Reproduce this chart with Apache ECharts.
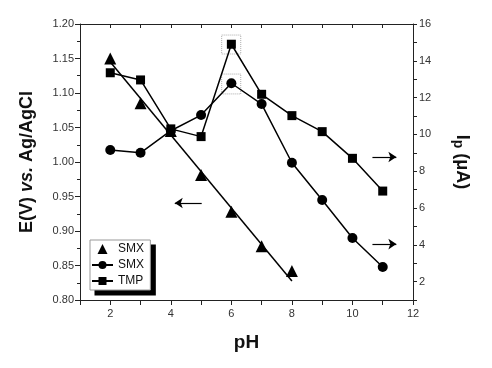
<!DOCTYPE html>
<html><head><meta charset="utf-8">
<script src="https://cdn.jsdelivr.net/npm/echarts@6/dist/echarts.min.js"></script>
<style>html,body{margin:0;padding:0;background:#fff}#c{width:492px;height:368px}</style>
</head><body><div id="c"></div>
<script>
const pH = [2,3,4,5,6,7,8,9,10,11];
const smxPotential = [1.150,1.085,1.045,0.981,0.928,0.878,0.842]; // pH 2..8, left axis
const smxFit = [[2,1.145],[8,0.8275]];
const smxCurrent = [9.15,9.0,10.2,11.05,12.78,11.65,8.46,6.43,4.37,2.79];
const tmpCurrent = [13.35,12.96,10.3,9.88,14.9,12.18,11.02,10.15,8.70,6.92];
const xTicks = [2,4,6,8,10,12];
const leftTicks = [0.80,0.85,0.90,0.95,1.00,1.05,1.10,1.15,1.20];
const rightTicks = [2,4,6,8,10,12,14,16];

const font = 'Liberation Sans, Arial, sans-serif';
const chart = echarts.init(document.getElementById('c'), null, {renderer:'canvas'});
const axisLine = {show:true, lineStyle:{color:'#222', width:1}};
const lbl = {color:'#333', fontSize:11, fontFamily:font};
const arrowML = {
  silent:true, symbol:['none','arrow'], symbolSize:8, label:{show:false},
  lineStyle:{color:'#000', width:1.2, type:'solid'}, emphasis:{disabled:true}
};

chart.setOption({
  backgroundColor:'#fff',
  animation:false,
  grid:{left:80, right:79, top:24, bottom:68},
  legend:{
    orient:'vertical', left:90, top:240, z:10,
    data:[{name:'SMX', icon:'path://M0,10 L5,0 L10,10 Z'}, 'SMX ', 'TMP'],
    itemWidth:21, itemHeight:10, itemGap:4, symbolKeepAspect:true,
    padding:[3,3,3,1],
    backgroundColor:'#fff', borderColor:'#999', borderWidth:1,
    textStyle:{fontSize:12, color:'#111', fontFamily:font}
  },
  xAxis:[{
    type:'value', min:1, max:12, interval:1, position:'bottom',
    name:'pH', nameLocation:'middle', nameGap:33,
    nameTextStyle:{fontSize:19, fontWeight:'bold', color:'#111', fontFamily:font},
    axisLine:axisLine, splitLine:{show:false},
    axisTick:{show:true, inside:false, length:5, lineStyle:{color:'#222'}},
    axisLabel:Object.assign({margin:8, formatter:v=>xTicks.includes(v)?String(v):''}, lbl)
  },{
    type:'value', min:1, max:12, interval:1, position:'top',
    axisLine:axisLine, splitLine:{show:false},
    axisTick:{show:true, inside:true, length:4, lineStyle:{color:'#222'}},
    axisLabel:{show:false}
  }],
  yAxis:[{
    type:'value', min:0.80, max:1.20, interval:0.05, position:'left',
    name:'{a|E(V) }{b|vs.}{a| Ag/AgCl}', nameLocation:'middle', nameGap:44, nameRotate:90,
    nameTextStyle:{rich:{
      a:{fontSize:18, fontWeight:'bold', color:'#111', fontFamily:font},
      b:{fontSize:18, fontWeight:'bold', fontStyle:'italic', color:'#111', fontFamily:font}}},
    axisLine:axisLine, splitLine:{show:false},
    axisTick:{show:true, inside:false, length:5, lineStyle:{color:'#222'}},
    minorTick:{show:true, splitNumber:2, length:3, lineStyle:{color:'#222'}},
    axisLabel:Object.assign({margin:6, formatter:v=>{const t=leftTicks.find(x=>Math.abs(x-v)<1e-6);return t!==undefined?t.toFixed(2):'';}}, lbl)
  },{
    type:'value', min:1, max:16, interval:1, position:'right',
    name:'{a|I}{s|p}{a| (μA)}', nameLocation:'middle', nameGap:38, nameRotate:-90,
    nameTextStyle:{rich:{
      a:{fontSize:18, fontWeight:'bold', color:'#111', fontFamily:font},
      s:{fontSize:14, fontWeight:'bold', color:'#111', fontFamily:font, verticalAlign:'bottom', padding:[8,0,0,0]}}},
    axisLine:axisLine, splitLine:{show:false},
    axisTick:{show:true, inside:false, length:4, lineStyle:{color:'#222'}},
    axisLabel:Object.assign({margin:6, formatter:v=>rightTicks.includes(v)?String(v):''}, lbl)
  }],
  series:[
    {
      name:'SMX', type:'scatter', xAxisIndex:0, yAxisIndex:0,
      symbol:'triangle', symbolSize:12,
      itemStyle:{color:'#000', opacity:1},
      data:smxPotential.map((v,i)=>[pH[i],v]),
      z:5,
      markLine:Object.assign({data:[[{coord:[5.02,0.9406]},{coord:[4.13,0.9406]}]]}, arrowML)
    },
    {
      name:'SMXfit', type:'line', xAxisIndex:0, yAxisIndex:0,
      showSymbol:false, symbol:'none',
      lineStyle:{color:'#000', width:1.5},
      data:smxFit, z:3
    },
    {
      name:'SMX ', type:'line', xAxisIndex:0, yAxisIndex:1,
      symbol:'circle', symbolSize:10, showAllSymbol:true,
      itemStyle:{color:'#000'}, lineStyle:{color:'#000', width:1.5},
      data:smxCurrent.map((v,i)=>[pH[i],v]), z:4,
      markArea:{
        silent:true,
        itemStyle:{color:'rgba(0,0,0,0)', borderColor:'#aaa', borderWidth:1, borderType:'dotted'},
        data:[
          [{coord:[5.68,15.4]},{coord:[6.31,14.37]}],
          [{coord:[5.68,13.28]},{coord:[6.31,12.2]}]
        ]
      },
      markLine:Object.assign({data:[
        [{coord:[10.66,8.77]},{coord:[11.45,8.77]}],
        [{coord:[10.66,4.04]},{coord:[11.45,4.04]}]
      ]}, arrowML)
    },
    {
      name:'TMP', type:'line', xAxisIndex:0, yAxisIndex:1,
      symbol:'rect', symbolSize:9, showAllSymbol:true,
      itemStyle:{color:'#000'}, lineStyle:{color:'#000', width:1.5},
      data:tmpCurrent.map((v,i)=>[pH[i],v]), z:4
    }
  ]
});

// legend drop shadow (black offset box), sized from the rendered legend
let lw = 58, lh = 50, lx = 90, ly = 240;
try {
  const views = chart._componentsViews || [];
  const lv = views.find(v => v && v.type && v.type.indexOf('legend') === 0);
  if (lv) {
    const g = lv.group;
    const r = g.getBoundingRect();
    lx = g.x + r.x; ly = g.y + r.y; lw = r.width; lh = r.height;
  }
} catch (e) {}
chart.setOption({graphic:[{
  type:'rect', left:lx + 5, top:ly + 5, z:1, zlevel:0,
  shape:{width:lw, height:lh}, style:{fill:'#000'}
}]});
</script></body></html>
